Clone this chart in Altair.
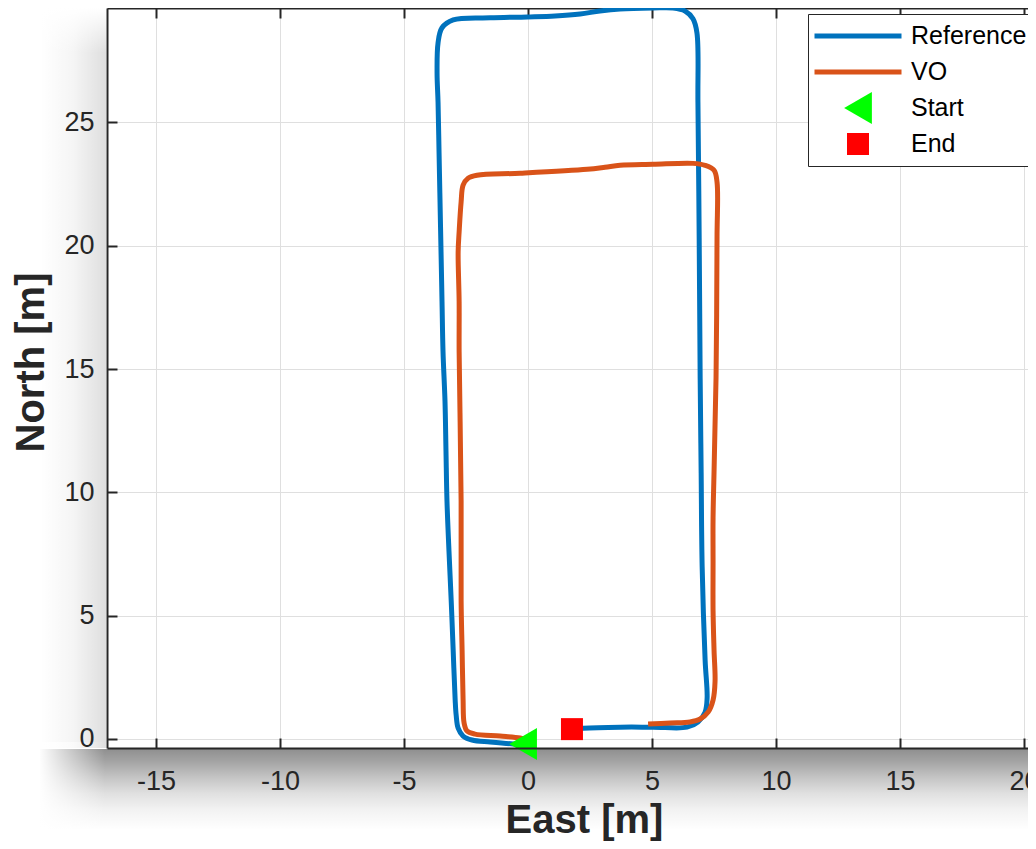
import altair as alt
import pandas as pd

# ---- data ----
ref_east = [0.00, -0.60, -1.53, -2.26, -2.62, -2.82, -2.90, -2.94, -3.02, -3.10, -3.19, -3.27,
            -3.31, -3.35, -3.43, -3.47, -3.51, -3.55, -3.59, -3.63, -3.67, -3.63, -3.47, -3.02,
            -1.53, -0.04, 1.09, 2.10, 2.90, 3.71, 5.04, 5.85, 6.33, 6.65, 6.81, 6.85, 6.90,
            6.94, 6.98, 7.02, 7.14, 7.22, 7.14, 6.85, 6.41, 5.04, 3.71, 2.22, 1.77]
ref_north = [-0.22, -0.20, -0.12, -0.04, 0.12, 0.44, 0.97, 1.58, 3.59, 5.61, 7.63, 9.65,
             11.67, 13.69, 15.71, 17.73, 19.75, 21.77, 23.79, 25.81, 27.02, 28.23, 28.84, 29.16,
             29.24, 29.28, 29.32, 29.40, 29.52, 29.60, 29.64, 29.64, 29.52, 29.20, 28.63, 25.81,
             20.32, 14.62, 10.78, 6.99, 3.19, 1.66, 1.09, 0.69, 0.48, 0.48, 0.48, 0.44, 0.40]
vo_east = [0.00, -0.32, -1.13, -2.14, -2.46, -2.58, -2.62, -2.66, -2.70, -2.70, -2.74, -2.78,
           -2.78, -2.82, -2.78, -2.70, -2.62, -2.42, -2.06, -0.32, 2.38, 3.10, 3.71, 5.04,
           6.65, 7.14, 7.50, 7.62, 7.62, 7.58, 7.50, 7.46, 7.46, 7.46, 7.50, 7.54, 7.46,
           7.26, 6.94, 6.53, 5.73, 4.84]
vo_north = [-0.05, 0.04, 0.12, 0.20, 0.32, 0.65, 1.58, 3.59, 5.61, 9.65, 12.88, 15.71,
            17.73, 19.75, 20.56, 21.77, 22.46, 22.74, 22.86, 22.94, 23.10, 23.18, 23.26, 23.30,
            23.34, 23.26, 23.06, 22.58, 20.36, 14.66, 10.86, 8.97, 7.11, 5.21, 3.59, 2.34, 1.58,
            1.09, 0.81, 0.69, 0.65, 0.61]
marker_names = ["Start", "End"]
marker_east = [-0.2, 1.77]
marker_north = [-0.2, 0.40]
legend_names = ["Reference", "VO", "Start", "End"]
x_ticks = [-15, -10, -5, 0, 5, 10, 15, 20]
y_ticks = [0, 5, 10, 15, 20, 25]

# ---- styling ----
W, H = 921, 740
XD = [-16.98, 20.16]
YD = [-0.365, 29.64]
BLUE, ORANGE, GREEN, RED = "#0072BD", "#D95319", "#00FF00", "#FF0000"
INK = "#262626"
FONT = "Liberation Sans"

ref_df = pd.DataFrame({"east": ref_east, "north": ref_north, "i": list(range(len(ref_east)))})
vo_df = pd.DataFrame({"east": vo_east, "north": vo_north, "i": list(range(len(vo_east)))})
mk_df = pd.DataFrame({"east": marker_east, "north": marker_north, "series": marker_names})
one = pd.DataFrame({"a": [0]})

xs = alt.Scale(domain=XD, nice=False, zero=False)
ys = alt.Scale(domain=YD, nice=False, zero=False)

axis_x_main = alt.Axis(orient="bottom", values=x_ticks, labelExpr="'' + datum.value",
                       ticks=False, grid=False, domain=True, domainColor=INK, domainWidth=2,
                       labelFont=FONT, labelFontSize=27, labelColor=INK, labelPadding=20,
                       title="East [m]", titleFont=FONT, titleFontSize=40, titleFontWeight="bold",
                       titleColor=INK, titleX=477, titleY=84, titleAlign="center",
                       titleBaseline="alphabetic", zindex=1)
axis_y_main = alt.Axis(orient="left", values=y_ticks, labelExpr="'' + datum.value",
                       ticks=False, grid=False, domain=True, domainColor=INK, domainWidth=2,
                       labelFont=FONT, labelFontSize=27, labelColor=INK, labelPadding=13,
                       title="North [m]", titleFont=FONT, titleFontSize=40, titleFontWeight="bold",
                       titleColor=INK, titleX=-76, titleY=354, titleAngle=270, titleAlign="center",
                       titleBaseline="middle", zindex=1)
axis_x_inner = alt.Axis(orient="top", offset=-H, values=x_ticks, labels=False, ticks=True,
                        tickSize=10, tickWidth=2, tickColor=INK, domain=False, grid=True,
                        gridColor="#dfdfdf", gridWidth=1, zindex=0)
axis_y_inner = alt.Axis(orient="right", offset=-W, values=y_ticks, labels=False, ticks=True,
                        tickSize=10, tickWidth=2, tickColor=INK, domain=False, grid=True,
                        gridColor="#dfdfdf", gridWidth=1, zindex=0)
axis_x_topborder = alt.Axis(orient="bottom", offset=-H, values=x_ticks, labels=False, ticks=True,
                            tickSize=10, tickWidth=2, tickColor=INK, domain=True, domainColor=INK,
                            domainWidth=2, grid=False, zindex=0)

# soft shadow bands around the axes (decoration)
def stop(o, c):
    return alt.GradientStop(offset=o, color=c)

grad_bottom = alt.LinearGradient(gradient="linear", x1=0, y1=0, x2=0, y2=1, stops=[
    stop(0, "rgba(0,0,0,0.44)"), stop(0.15, "rgba(0,0,0,0.36)"), stop(0.35, "rgba(0,0,0,0.23)"),
    stop(0.55, "rgba(0,0,0,0.12)"), stop(0.75, "rgba(0,0,0,0.05)"), stop(1, "rgba(0,0,0,0)")])
grad_left = alt.LinearGradient(gradient="linear", x1=0, y1=0, x2=1, y2=0, stops=[
    stop(0, "rgba(0,0,0,0)"), stop(0.5, "rgba(0,0,0,0.04)"), stop(1, "rgba(0,0,0,0.13)")])
fade_h = alt.LinearGradient(gradient="linear", x1=0, y1=0, x2=1, y2=0, stops=[
    stop(0, "rgba(255,255,255,1)"), stop(1, "rgba(255,255,255,0)")])
fade_v = alt.LinearGradient(gradient="linear", x1=0, y1=0, x2=0, y2=1, stops=[
    stop(0, "rgba(255,255,255,1)"), stop(1, "rgba(255,255,255,0)")])

shadow_bottom = alt.Chart(one).mark_rect(fill=grad_bottom).encode(
    x=alt.value(-67), x2=alt.value(W), y=alt.value(H + 1), y2=alt.value(H + 82))
shadow_left = alt.Chart(one).mark_rect(fill=grad_left).encode(
    x=alt.value(-67), x2=alt.value(-1), y=alt.value(0), y2=alt.value(H))
fade_bottom_left = alt.Chart(one).mark_rect(fill=fade_h).encode(
    x=alt.value(-68), x2=alt.value(-2), y=alt.value(H - 6), y2=alt.value(H + 83))
fade_left_top = alt.Chart(one).mark_rect(fill=fade_v).encode(
    x=alt.value(-68), x2=alt.value(-1), y=alt.value(0), y2=alt.value(45))

ref_line = alt.Chart(ref_df).mark_line(color=BLUE, strokeWidth=5, strokeJoin="round",
                                       interpolate="catmull-rom").encode(
    x=alt.X("east:Q", scale=xs, axis=axis_x_main),
    y=alt.Y("north:Q", scale=ys, axis=axis_y_main),
    order="i:Q")
vo_line = alt.Chart(vo_df).mark_line(color=ORANGE, strokeWidth=5, strokeJoin="round",
                                     interpolate="catmull-rom").encode(
    x=alt.X("east:Q", scale=xs, axis=axis_x_inner, title=None),
    y=alt.Y("north:Q", scale=ys, axis=axis_y_inner, title=None),
    order="i:Q")

leg = alt.Legend(orient="none", legendX=701, legendY=6, title=None, padding=4,
                 strokeColor=INK, fillColor="white", labelFont=FONT, labelFontSize=25,
                 labelColor="black", labelOffset=7, symbolStrokeWidth=5, clipHeight=36,
                 rowPadding=0, symbolOpacity=1)
pts = alt.Chart(mk_df).mark_point(filled=True, opacity=1, strokeWidth=5, clip=False).encode(
    x=alt.X("east:Q", scale=xs, axis=axis_x_topborder, title=None),
    y=alt.Y("north:Q", scale=ys, axis=None),
    shape=alt.Shape("series:N", scale=alt.Scale(domain=legend_names,
                    range=["stroke", "stroke", "triangle-left", "square"]), legend=leg),
    size=alt.Size("series:N", scale=alt.Scale(type="ordinal", domain=legend_names,
                  range=[7569, 7569, 1024, 484]), legend=leg),
    fill=alt.Fill("series:N", scale=alt.Scale(domain=legend_names,
                  range=[BLUE, ORANGE, GREEN, RED]), legend=leg),
    stroke=alt.Stroke("series:N", scale=alt.Scale(domain=legend_names,
                      range=[BLUE, ORANGE, "transparent", "transparent"]), legend=leg),
)

chart = alt.layer(shadow_left, shadow_bottom, fade_bottom_left, fade_left_top,
                  ref_line, vo_line, pts).resolve_axis(
    x="independent", y="independent"
).properties(
    width=W, height=H,
    autosize=alt.AutoSizeParams(type="none"),
    padding={"left": 99, "top": 0, "right": 0, "bottom": 93},
    background="white",
).configure_view(strokeWidth=0)

chart.save("out.html", embed_options={"renderer": "svg", "actions": False})
